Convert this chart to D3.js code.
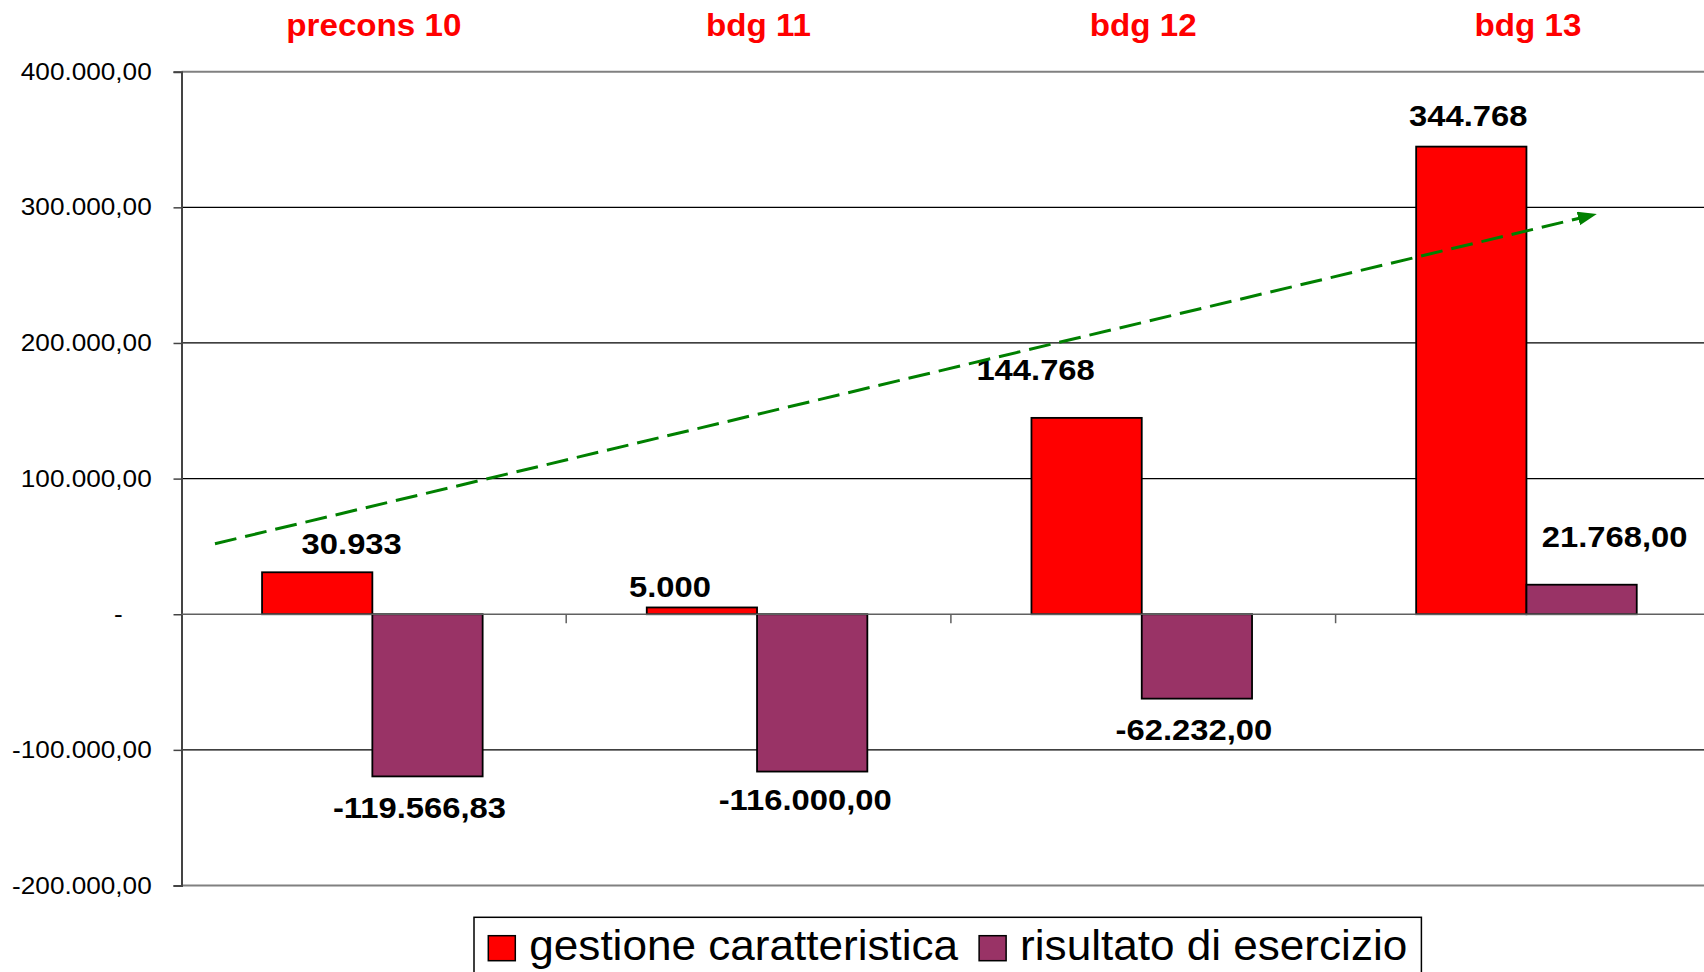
<!DOCTYPE html>
<html><head><meta charset="utf-8">
<script src="https://cdn.jsdelivr.net/npm/d3@7"></script>
<style>html,body{margin:0;padding:0;background:#fff;overflow:hidden}
text{font-family:"Liberation Sans",Arial,sans-serif}</style>
</head><body><svg id="chart" width="1704" height="972"></svg>
<script>
// ---- data ----
const categories = ["precons 10", "bdg 11", "bdg 12", "bdg 13"];
const seriesNames = ["gestione caratteristica", "risultato di esercizio"];
const gestioneCaratteristica = [30933, 5000, 144768, 344768];
const risultatoDiEsercizio = [-119566.83, -116000, -62232, 21768];
const yTickValues = [-200000, -100000, 0, 100000, 200000, 300000, 400000];
// trend arrow endpoints: position in category units from the left of the plot, and value
const trendArrow = [{pos: 0.087, value: 52000}, {pos: 3.679, value: 295000}];

// ---- layout / style ----
const colors = ["#FF0000", "#993366"];
const plot = {left: 181.5, right: 1720.3, top: 71.7, bottom: 885.5};
// manual nudges of data labels [dx, dy] per series / category
const labelNudge = [
  [[34.5, 0], [-32, 7.5], [-51, -20], [-3, -2.5]],
  [[-8, 0], [-7, -3], [-3, 0], [33, -20]]
];

const loc = d3.formatLocale({decimal: ",", thousands: ".", grouping: [3], currency: ["", ""], minus: "-"});
const fmt2 = loc.format(",.2f");
const fmt0 = loc.format(",.0f");
const seriesFormats = [fmt0, fmt2];
const seriesValues = [gestioneCaratteristica, risultatoDiEsercizio];

const svg = d3.select("#chart");

const x0 = d3.scaleBand().domain(categories).range([plot.left, plot.right]).paddingInner(0).paddingOuter(0);
const x1 = d3.scaleBand().domain(seriesNames).range([-1.5, x0.bandwidth() - 1.5]).paddingInner(0).paddingOuter(0.744);
const y = d3.scaleLinear().domain([-200000, 400000]).range([plot.bottom, plot.top]);

// gridlines
svg.append("g").selectAll("line").data(yTickValues.filter(v => v !== 0)).join("line")
  .attr("x1", plot.left).attr("x2", plot.right)
  .attr("y1", d => y(d)).attr("y2", d => y(d))
  .attr("stroke", d => (d === 400000 || d === -200000) ? "#808080" : "#000")
  .attr("stroke-width", d => (d === 400000 || d === -200000) ? 2 : 1.2);

// y axis
const yAxis = svg.append("g").attr("transform", `translate(${plot.left},0)`)
  .call(d3.axisLeft(y).tickValues(yTickValues).tickSize(8).tickFormat(d => d === 0 ? "-" : fmt2(d)));
yAxis.select(".domain").attr("stroke", "#444").attr("stroke-width", 2);
yAxis.selectAll(".tick line").attr("stroke", "#444").attr("stroke-width", 1.5);
yAxis.selectAll(".tick text")
  .attr("x", 0).attr("dy", null).attr("fill", "#000")
  .style("font-size", "24px")
  .attr("text-anchor", "end")
  .attr("transform", d => `translate(${d === 0 ? -29.8 - 2 * 0.556 * 24 * 1.09 : -29.8},7.6) scale(1.09,1)`);

// category axis (labels on top)
const xAxis = svg.append("g").attr("transform", "translate(0,36)")
  .call(d3.axisTop(x0).tickSize(0).tickPadding(0));
xAxis.select(".domain").remove();
xAxis.selectAll(".tick text")
  .attr("y", 0).attr("dy", null)
  .attr("fill", "#FF0000").style("font-size", "31px").style("font-weight", "bold")
  .attr("transform", "scale(1.07,1)");

// bars
const groups = svg.append("g").selectAll("g").data(categories).join("g")
  .attr("transform", d => `translate(${x0(d)},0)`);
groups.selectAll("rect").data((c, i) => seriesNames.map((s, k) => ({s, k, v: seriesValues[k][i]}))).join("rect")
  .attr("x", d => x1(d.s)).attr("width", x1.bandwidth())
  .attr("y", d => y(Math.max(0, d.v))).attr("height", d => Math.abs(y(d.v) - y(0)))
  .attr("fill", d => colors[d.k]).attr("stroke", "#000").attr("stroke-width", 1.8);

// zero (category) axis line with ticks at band boundaries
svg.append("line").attr("x1", plot.left).attr("x2", plot.right)
  .attr("y1", y(0)).attr("y2", y(0)).attr("stroke", "#606060").attr("stroke-width", 1.6);
svg.append("g").selectAll("line").data(categories.slice(1)).join("line")
  .attr("x1", d => x0(d)).attr("x2", d => x0(d))
  .attr("y1", y(0)).attr("y2", y(0) + 9)
  .attr("stroke", "#606060").attr("stroke-width", 1.5);

// data labels
const labels = [];
categories.forEach((c, i) => seriesNames.forEach((s, k) => {
  const v = seriesValues[k][i];
  const cx = x0(c) + x1(s) + x1.bandwidth() / 2 + labelNudge[k][i][0];
  const by = (v >= 0 ? y(v) - 18 : y(v) + 41.5) + labelNudge[k][i][1];
  labels.push({cx, by, t: seriesFormats[k](v)});
}));
svg.append("g").selectAll("text").data(labels).join("text")
  .attr("text-anchor", "middle")
  .attr("transform", d => `translate(${d.cx},${d.by}) scale(1.13,1)`)
  .style("font-size", "29px").style("font-weight", "bold").attr("fill", "#000")
  .text(d => d.t);

// trend arrow
const defs = svg.append("defs");
const ahLen = 19, ahW = 14, shorten = 8;
defs.append("marker").attr("id", "ah").attr("markerUnits", "userSpaceOnUse")
  .attr("markerWidth", ahLen + 2).attr("markerHeight", ahW + 2)
  .attr("refX", ahLen - shorten).attr("refY", ahW / 2).attr("orient", "auto")
  .append("path").attr("d", `M0,0 L${ahLen},${ahW / 2} L0,${ahW} Z`).attr("fill", "#008000");
const ap = trendArrow.map(p => [plot.left + p.pos * x0.step(), y(p.value)]);
const dxA = ap[1][0] - ap[0][0], dyA = ap[1][1] - ap[0][1], LA = Math.hypot(dxA, dyA);
svg.append("line")
  .attr("x1", ap[0][0]).attr("y1", ap[0][1])
  .attr("x2", ap[1][0] - dxA / LA * shorten).attr("y2", ap[1][1] - dyA / LA * shorten)
  .attr("stroke", "#008000").attr("stroke-width", 3).attr("stroke-dasharray", "22,9")
  .attr("marker-end", "url(#ah)");

// legend
const lg = svg.append("g");
lg.append("rect").attr("x", 474).attr("y", 917.3).attr("width", 947.4).attr("height", 90)
  .attr("fill", "#fff").attr("stroke", "#000").attr("stroke-width", 1.5);
let lx = 488.3;
seriesNames.forEach((s, k) => {
  lg.append("rect").attr("x", lx).attr("y", 935.7).attr("width", 27).attr("height", 25)
    .attr("fill", colors[k]).attr("stroke", "#000").attr("stroke-width", 1.5);
  const t = lg.append("text").attr("transform", `translate(${lx + 41},960) scale(1.05,1)`)
    .style("font-size", "42px").attr("fill", "#000").text(s);
  lx += 41 + t.node().getComputedTextLength() * 1.05 + 21;
});
</script></body></html>
